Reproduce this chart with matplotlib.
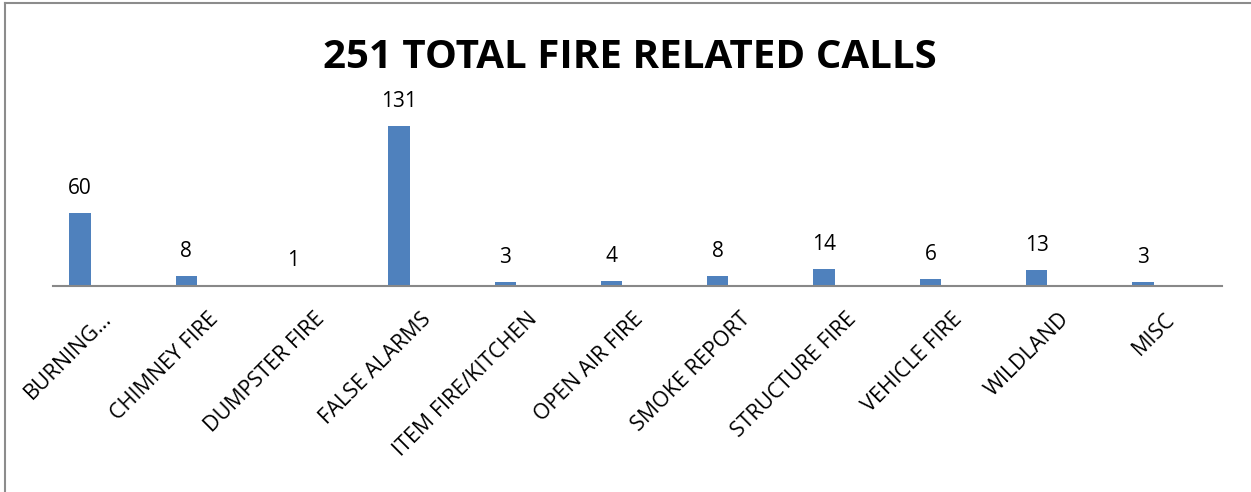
import matplotlib
matplotlib.use("Agg")
import matplotlib.pyplot as plt
from matplotlib.transforms import ScaledTranslation
from matplotlib.lines import Line2D

categories = ["BURNING…", "CHIMNEY FIRE", "DUMPSTER FIRE", "FALSE ALARMS",
              "ITEM FIRE/KITCHEN", "OPEN AIR FIRE", "SMOKE REPORT",
              "STRUCTURE FIRE", "VEHICLE FIRE", "WILDLAND", "MISC"]
values = [60, 8, 1, 131, 3, 4, 8, 14, 6, 13, 3]
title = "251 TOTAL FIRE RELATED CALLS"

plt.rcParams['font.family'] = ['Open Sans', 'DejaVu Sans']

fig = plt.figure(figsize=(12.51, 4.92), dpi=100)
W, H = 1251, 492
ax_left = 53 / W
ax_right = 1222 / W
ax_bottom = 1 - 286 / H
ymax = 150
px_per_unit = 160 / 131
ax_h = ymax * px_per_unit / H
ax = fig.add_axes([ax_left, ax_bottom, ax_right - ax_left, ax_h])

x = list(range(len(categories)))
bars = ax.bar(x, values, width=0.2, color="#4F81BD", zorder=2)
step = 106.3
ax.set_xlim(-(80 - 53) / step, 10 + (1222 - 1143) / step)
ax.set_ylim(0, ymax)

for xi, v in zip(x, values):
    ax.annotate(str(v), (xi, v), xytext=(0, 10), textcoords="offset points",
                ha="center", va="bottom", fontsize=15, color="black")

for s in ["top", "right", "left"]:
    ax.spines[s].set_visible(False)
ax.spines["bottom"].set_color("#888888")
ax.spines["bottom"].set_linewidth(1.5)
ax.set_yticks([])
ax.set_xticks(x)
ax.set_xticklabels(categories, rotation=45, ha="right", va="center",
                   rotation_mode="anchor", fontsize=15.5)
ax.tick_params(axis="x", length=0, pad=0)
off = ScaledTranslation(29 / 100, -30 / 100, fig.dpi_scale_trans)
for lbl in ax.get_xticklabels():
    lbl.set_transform(lbl.get_transform() + off)

fig.text(0.5 + 4 / W, 1 - 58 / H, title, ha="center", va="center",
         fontsize=29, fontweight="bold")

# chart border (left and top visible)
fig.add_artist(Line2D([5 / W, 5 / W], [0, 1 - 3 / H], transform=fig.transFigure,
                      color="#8c8c8c", linewidth=1.5))
fig.add_artist(Line2D([5 / W, 1], [1 - 3 / H, 1 - 3 / H], transform=fig.transFigure,
                      color="#8c8c8c", linewidth=1.5))

fig.savefig("out.png", dpi=100, facecolor="white")
